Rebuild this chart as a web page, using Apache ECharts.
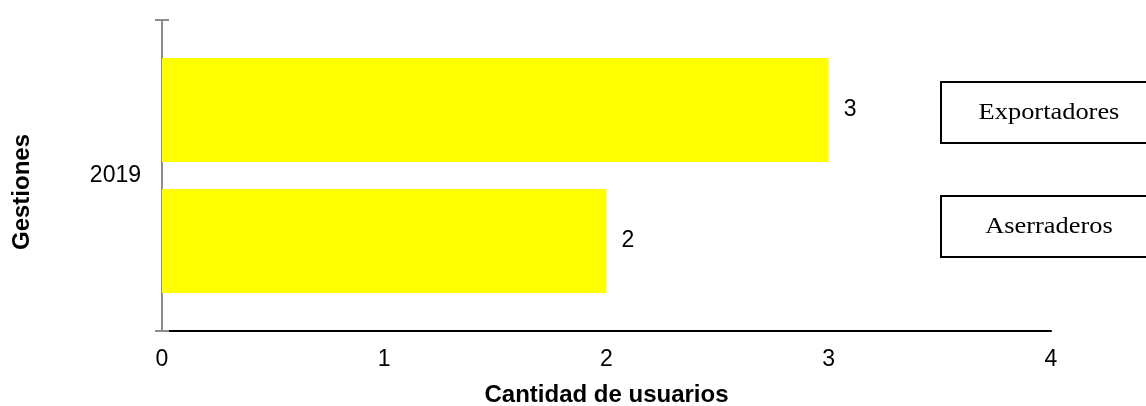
<!DOCTYPE html>
<html>
<head>
<meta charset="utf-8">
<script src="https://cdn.jsdelivr.net/npm/echarts@6/dist/echarts.min.js"></script>
<style>
  html, body { margin: 0; padding: 0; background: #fff; }
  #chart { width: 1146px; height: 406px; }
</style>
</head>
<body>
<div id="chart"></div>
<script>
// Data
const categories = ['2019'];
const seriesNames = ['Exportadores', 'Aserraderos'];
const exportadores = [3];
const aserraderos = [2];
const xTicks = [0, 1, 2, 3, 4];
const xAxisTitle = 'Cantidad de usuarios';
const yAxisTitle = 'Gestiones';

const chart = echarts.init(document.getElementById('chart'), null, { renderer: 'canvas' });

const sans = '"Liberation Sans", Arial, sans-serif';
const serif = '"Liberation Serif", "Times New Roman", serif';
const gray = '#8c8c8c';

const labelStyle = {
  show: true,
  position: 'right',
  distance: 15,
  color: '#000',
  fontFamily: sans,
  fontSize: 23
};

// legend-like boxes built from series names
const boxes = [];
const boxSpec = [
  { name: seriesNames[0], top: 82 },
  { name: seriesNames[1], top: 196 }
];
boxSpec.forEach(b => {
  boxes.push({
    type: 'rect',
    shape: { x: 941, y: b.top, width: 220, height: 61 },
    style: { fill: '#fff', stroke: '#000', lineWidth: 2 },
    z: 10
  });
  boxes.push({
    type: 'text',
    x: 1049,
    y: b.top + 31,
    scaleX: 1.1,
    style: {
      text: b.name,
      fill: '#000',
      font: '24px ' + serif,
      align: 'center',
      verticalAlign: 'middle'
    },
    z: 11
  });
});
boxes.push({
  type: 'text',
  x: 22.5,
  y: 192,
  rotation: Math.PI / 2,
  style: {
    text: yAxisTitle,
    fill: '#000',
    font: 'bold 24px ' + sans,
    align: 'center',
    verticalAlign: 'middle'
  }
});

chart.setOption({
  animation: false,
  backgroundColor: '#fff',
  grid: { left: 162, right: 95, top: 20, bottom: 75, containLabel: false, outerBoundsMode: 'none' },
  xAxis: {
    type: 'value',
    min: xTicks[0],
    max: xTicks[xTicks.length - 1],
    interval: 1,
    axisLine: { show: true, lineStyle: { color: '#000', width: 2 } },
    axisTick: { show: false },
    splitLine: { show: false },
    axisLabel: { color: '#000', fontFamily: sans, fontSize: 23, margin: 17 },
    name: xAxisTitle,
    nameLocation: 'middle',
    nameGap: 52,
    nameTextStyle: { color: '#000', fontFamily: sans, fontSize: 24, fontWeight: 'bold' }
  },
  yAxis: [
    {
      type: 'category',
      data: categories,
      axisLine: { show: true, lineStyle: { color: gray, width: 2 } },
      axisTick: { show: true, inside: false, length: 7, lineStyle: { color: gray, width: 2 } },
      axisLabel: { color: '#000', fontFamily: sans, fontSize: 23, margin: 21 },
      splitLine: { show: false }
    },
    {
      type: 'category',
      data: categories,
      position: 'left',
      axisLine: { show: false },
      axisTick: { show: true, inside: true, length: 7, lineStyle: { color: gray, width: 2 } },
      axisLabel: { show: false },
      splitLine: { show: false }
    }
  ],
  series: [
    {
      name: seriesNames[0],
      type: 'bar',
      data: exportadores,
      barWidth: 104,
      barGap: '26%',
      itemStyle: { color: '#FFFF00' },
      label: labelStyle
    },
    {
      name: seriesNames[1],
      type: 'bar',
      data: aserraderos,
      barWidth: 104,
      barGap: '26%',
      itemStyle: { color: '#FFFF00' },
      label: labelStyle
    }
  ],
  graphic: boxes
});
</script>
</body>
</html>
